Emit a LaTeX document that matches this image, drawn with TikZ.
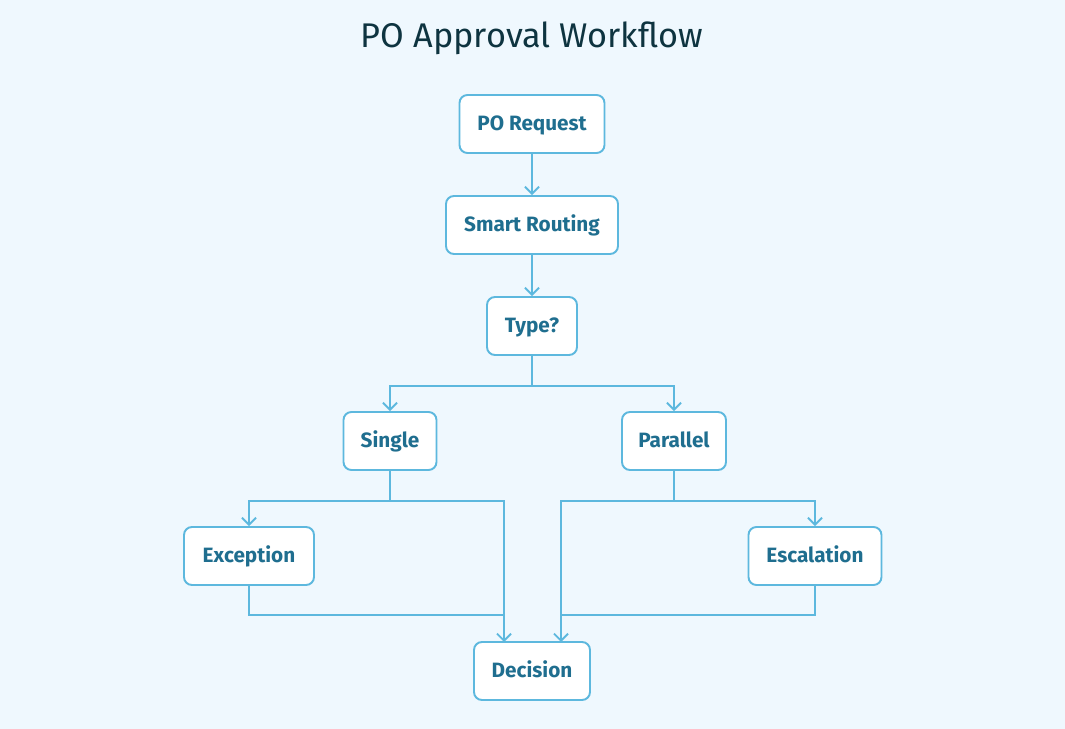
\documentclass[tikz,border=0pt]{standalone}
\usepackage{fontspec}
\setmainfont{Fira Sans}
\usepackage{xcolor}
\usepackage{tikz}
\usetikzlibrary{positioning,arrows.meta}

\definecolor{bgblue}{HTML}{EFF8FE}
\definecolor{edgeblue}{HTML}{5DB8DE}
\definecolor{textblue}{HTML}{1F6E8F}
\definecolor{titledark}{HTML}{0E3440}

\begin{document}
\begin{tikzpicture}[
    x=0.02cm, y=-0.02cm,
    box/.style={draw=edgeblue, fill=white, line width=1.1pt, rounded corners=4.5pt,
      align=center, minimum height=1.16cm, text height=1.5ex, text depth=0.1ex,
      text=textblue, font=\fontsize{11.8}{14}\selectfont\bfseries},
    line/.style={draw=edgeblue, line width=1.1pt},
    arrow/.style={line, -{Straight Barb[length=4pt,width=8pt]}}
  ]
    \fill[bgblue] (0,0) rectangle (1065,729);
    \useasboundingbox (0,0) rectangle (1065,729);
    \node[text=titledark, font=\fontsize{19.5}{23}\selectfont] (title) at (532,38) {PO Approval Workflow};
    \node[box, minimum width=2.9cm] (request) at (532,124) {PO Request};
    \node[box, minimum width=3.44cm] (routing) at (532,225) {Smart Routing};
    \node[box, minimum width=1.8cm] (type) at (532,326) {Type?};
    \node[box, minimum width=1.86cm] (single) at (390,441) {Single};
    \node[box, minimum width=2.08cm] (parallel) at (674,441) {Parallel};
    \node[box, minimum width=2.6cm] (exception) at (249,556) {Exception};
    \node[box, minimum width=2.66cm] (escalation) at (815,556) {Escalation};
    \node[box, minimum width=2.32cm] (decision) at (532,671) {Decision};
    \coordinate (inl) at (504,642);
    \coordinate (inr) at (561,642);
    \coordinate (joinl) at (504,615);
    \coordinate (joinr) at (561,615);
    \draw[arrow] (request) -- (routing);
    \draw[arrow] (routing) -- (type);
    \draw[arrow] (type.south) -- ++(0,30) -| (single.north);
    \draw[arrow] (type.south) -- ++(0,30) -| (parallel.north);
    \draw[arrow] (single.south) -- ++(0,30) -| (exception.north);
    \draw[arrow] (single.south) -- ++(0,30) -| (inl);
    \draw[arrow] (parallel.south) -- ++(0,30) -| (escalation.north);
    \draw[arrow] (parallel.south) -- ++(0,30) -| (inr);
    \draw[line] (exception.south) |- (joinl);
    \draw[line] (escalation.south) |- (joinr);
  \end{tikzpicture}
\end{document}
